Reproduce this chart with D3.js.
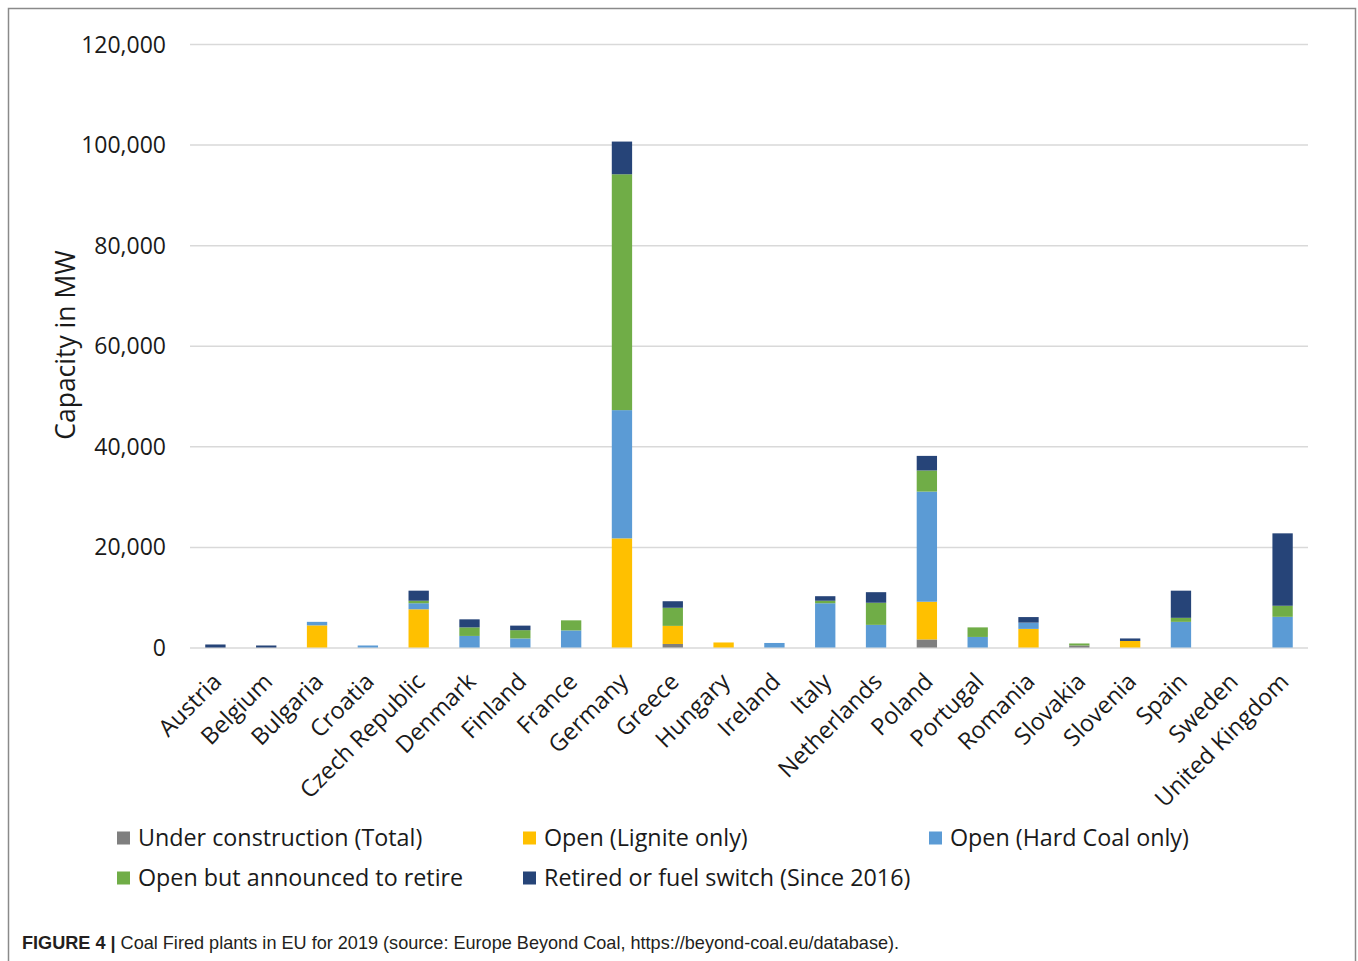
<!DOCTYPE html>
<html>
<head>
<meta charset="utf-8">
<script src="https://cdn.jsdelivr.net/npm/d3@7"></script>
<style>
  html, body { margin: 0; padding: 0; background: #fff; }
  svg { display: block; }
</style>
</head>
<body>
<svg id="chart" width="1358" height="961"></svg>
<script>
// ---- Data (MW) ----
const countries = ["Austria","Belgium","Bulgaria","Croatia","Czech Republic","Denmark","Finland","France","Germany","Greece","Hungary","Ireland","Italy","Netherlands","Poland","Portugal","Romania","Slovakia","Slovenia","Spain","Sweden","United Kingdom"];
const underConstruction = [0,0,0,0,0,0,0,0,0,700,0,0,0,0,1600,0,0,400,0,0,0,0];
const openLignite       = [0,0,4400,0,7600,0,0,0,21700,3600,1000,0,0,0,7500,0,3700,0,1300,0,0,0];
const openHardCoal      = [0,0,700,400,1200,2300,1800,3400,25500,0,0,900,8800,4500,21900,2100,1250,0,0,5100,0,6100];
const announcedRetire   = [0,0,0,0,500,1700,1650,2000,46900,3600,0,0,500,4400,4200,1900,0,400,0,800,0,2200];
const retiredSwitch     = [600,400,0,0,2000,1600,900,0,6500,1300,0,0,900,2100,2900,0,1100,0,500,5400,0,14400];

const seriesNames = ["Under construction (Total)","Open (Lignite only)","Open (Hard Coal only)","Open but announced to retire","Retired or fuel switch (Since 2016)"];
const seriesColors = ["#7f7f7f","#ffc000","#5b9bd5","#70ad47","#264478"];
const yTicks = [0,20000,40000,60000,80000,100000,120000];
const yTitle = "Capacity in MW";
const captionBold = "FIGURE 4 |";
const captionText = " Coal Fired plants in EU for 2019 (source: Europe Beyond Coal, https://beyond-coal.eu/database).";

const seriesValues = [underConstruction, openLignite, openHardCoal, announcedRetire, retiredSwitch];
const keys = seriesNames;
const table = countries.map((c, i) => {
  const row = { country: c };
  keys.forEach((k, j) => row[k] = seriesValues[j][i]);
  return row;
});

const svg = d3.select("#chart");
const FONT = "'Open Sans', sans-serif";

// frame
svg.append("rect")
  .attr("x", 8.5).attr("y", 8.5)
  .attr("width", 1347).attr("height", 970)
  .attr("fill", "none").attr("stroke", "#8a8a8a").attr("stroke-width", 1.5);

const x = d3.scaleBand().domain(countries).range([190, 1308]).paddingInner(0.6).paddingOuter(0.3);
const y = d3.scaleLinear().domain([0, 120000]).range([647.5, 44]);

// gridlines
const yAxis = d3.axisLeft(y).tickValues(yTicks).tickSize(-(1308 - 190)).tickPadding(24)
  .tickFormat(d3.format(","));
const gy = svg.append("g").attr("transform", "translate(190,0)").call(yAxis);
gy.select(".domain").remove();
gy.selectAll(".tick line").attr("stroke", "#d9d9d9").attr("stroke-width", 1.5);
gy.selectAll(".tick text")
  .attr("font-family", FONT).attr("font-size", 23).attr("fill", "#1a1a1a")
  .attr("dy", "0.35em");

// stacked bars
const stack = d3.stack().keys(keys)(table);
svg.append("g").selectAll("g").data(stack).join("g")
  .attr("fill", (d, i) => seriesColors[i])
  .selectAll("rect").data(d => d).join("rect")
  .attr("x", d => x(d.data.country))
  .attr("width", x.bandwidth())
  .attr("y", d => y(d[1]))
  .attr("height", d => Math.max(0, y(d[0]) - y(d[1])));

// x axis labels
const xAxis = d3.axisBottom(x).tickSize(0).tickPadding(0);
const gx = svg.append("g").attr("transform", "translate(0,647.5)").call(xAxis);
gx.select(".domain").remove();
gx.selectAll(".tick text")
  .attr("font-family", FONT).attr("font-size", 23.5).attr("fill", "#1a1a1a")
  .attr("text-anchor", "end")
  .attr("transform", "translate(-4,24) rotate(-45)")
  .attr("dy", "0.7em")
  .attr("y", 0).attr("x", 0);

// y title
svg.append("text")
  .attr("transform", "translate(75,345) rotate(-90)")
  .attr("text-anchor", "middle")
  .attr("font-family", FONT).attr("font-size", 26.5).attr("fill", "#1a1a1a")
  .text(yTitle);

// legend
const legendPos = [[117, 838], [523, 838], [929, 838], [117, 878], [523, 878]];
const lg = svg.append("g").selectAll("g").data(seriesNames).join("g")
  .attr("transform", (d, i) => `translate(${legendPos[i][0]},${legendPos[i][1]})`);
lg.append("rect").attr("x", 0).attr("y", -6.5).attr("width", 13).attr("height", 13)
  .attr("fill", (d, i) => seriesColors[i]);
lg.append("text").attr("x", 21).attr("y", 0).attr("dy", "0.35em")
  .attr("font-family", FONT).attr("font-size", 23.3).attr("fill", "#1a1a1a")
  .text(d => d);

// caption
const cap = svg.append("text").attr("x", 22).attr("y", 949)
  .attr("font-family", "'Liberation Sans', Arial, sans-serif").attr("font-size", 18.1).attr("fill", "#231f20");
cap.append("tspan").attr("font-weight", "bold").text(captionBold);
cap.append("tspan").text(captionText);
</script>
</body>
</html>
